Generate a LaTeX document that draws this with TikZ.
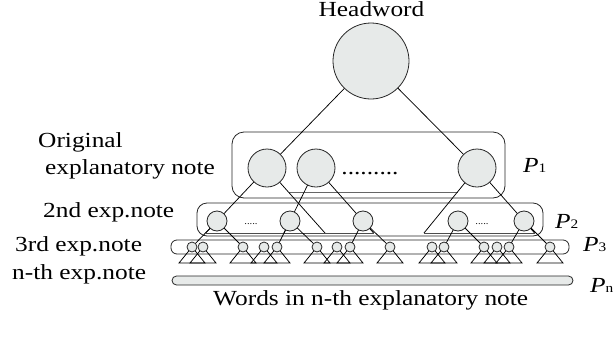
\documentclass[tikz,border=0pt]{standalone}
\usepackage{fontspec}
\setmainfont{Liberation Serif}[FakeStretch=1.18]
\definecolor{nodegray}{HTML}{E7EAE9}
\pgfdeclarelayer{bg}
\pgfsetlayers{bg,main}
\begin{document}
\begin{tikzpicture}[x=1pt,y=-1pt,
  nd/.style={circle,draw=black!85,fill=nodegray,line width=0.8pt,inner sep=0pt,minimum size=#1},
  ln/.style={line width=0.75pt,black},
  box/.style={line width=0.8pt,draw=black!85},
  lbl/.style={font=\fontsize{21.5}{24}\selectfont,inner sep=0pt},
  sub/.style={font=\fontsize{13}{13}\selectfont}]
\useasboundingbox (0,0) rectangle (614,338);

% nodes
\node[nd=76pt] (h) at (371,61) {};
\node[nd=38pt] (a1) at (267,168) {};
\node[nd=38pt] (a2) at (316,168) {};
\node[nd=38pt] (a3) at (477,168) {};
\node[nd=20pt] (b1) at (217,221) {};
\node[nd=20pt] (b2) at (290,221) {};
\node[nd=20pt] (b3) at (363,221) {};
\node[nd=20pt] (b4) at (458,221) {};
\node[nd=20pt] (b5) at (524,221) {};
\foreach \x [count=\i] in {192,203,243,264,277,317,337,350,390,432,444,484,497,509,550}
  \node[nd=10pt] (c\i) at (\x,247) {};

% dots
\node[lbl,anchor=base] (d1) at (370,174) {.........};
\node[inner sep=0pt,font=\fontsize{9}{9}\selectfont,anchor=base] (d2) at (251,224) {.....};
\node[inner sep=0pt,font=\fontsize{9}{9}\selectfont,anchor=base] (d3) at (482,224) {.....};

% triangle corners of P1 level
\coordinate (t1l) at (205.7,233);
\coordinate (t1r) at (325,233);
\coordinate (t2l) at (284,233);
\coordinate (t2r) at (373.6,233);
\coordinate (t3l) at (424,233);
\coordinate (t3r) at (534.6,233);
\coordinate (g1) at (289,192);
\coordinate (g2) at (458,192);

\begin{pgfonlayer}{bg}
  % boxes
  \draw[box,rounded corners=12pt] (232,132) rectangle (505,198);
  \draw[box,rounded corners=10pt] (197,203) rectangle (543,236);
  \draw[box,rounded corners=6pt] (171,240) rectangle (569,254);
  \draw[box,fill=nodegray,rounded corners=4.5pt] (172,276) rectangle (573,285);
  % headword connections
  \draw[ln] (h.center) -- (a1.center);
  \draw[ln] (h.center) -- (a3.center);
  \draw[line width=0.9pt,black!60] (g1) -- (g2);
  % P1 triangles
  \draw[ln] (t1l) -- (a1.center) -- (t1r);
  \draw[ln] (t2l) -- (a2.center) -- (t2r);
  \draw[ln] (t3l) -- (a3.center) -- (t3r);
  \draw[line width=0.9pt,black!70] (t1l) -- (t1r);
  \draw[line width=0.9pt,black!70] (t2l) -- (t2r);
  \draw[line width=0.9pt,black!70] (t3l) -- (t3r);
  % P2 -> P3
  \draw[ln] (c1.center) -- (b1.center) -- (c3.center);
  \draw[ln] (c5.center) -- (b2.center) -- (c6.center);
  \draw[ln] (c8.center) -- (b3.center) -- (c9.center);
  \draw[ln] (c11.center) -- (b4.center) -- (c12.center);
  \draw[ln] (c14.center) -- (b5.center) -- (c15.center);
  % P3 triangles
  \foreach \i in {1,...,15}
    \draw[ln] (c\i.center) -- ++(-13,16) -- ++(26,0) -- cycle;
\end{pgfonlayer}

% labels
\node[lbl,anchor=base] (hw) at (371.5,16) {Headword};
\node[lbl,anchor=base west] (l1) at (38,147) {Original};
\node[lbl,anchor=base west] (l2) at (45,174) {explanatory note};
\node[lbl,anchor=base west] (l3) at (43,217) {2nd exp.note};
\node[lbl,anchor=base west] (l4) at (15,251) {3rd exp.note};
\node[lbl,anchor=base west] (l5) at (12,279) {n-th exp.note};
\node[lbl,anchor=base west] (l6) at (213,305) {Words in n-th explanatory note};
\node[lbl,anchor=base west] (p1) at (523,172) {\textit{P}{\fontsize{13}{13}\selectfont 1}};
\node[lbl,anchor=base west] (p2) at (555,228) {\textit{P}{\fontsize{13}{13}\selectfont 2}};
\node[lbl,anchor=base west] (p3) at (583,251) {\textit{P}{\fontsize{13}{13}\selectfont 3}};
\node[lbl,anchor=base west] (pn) at (590,292) {\textit{P}{\fontsize{13}{13}\selectfont n}};
\end{tikzpicture}
\end{document}
